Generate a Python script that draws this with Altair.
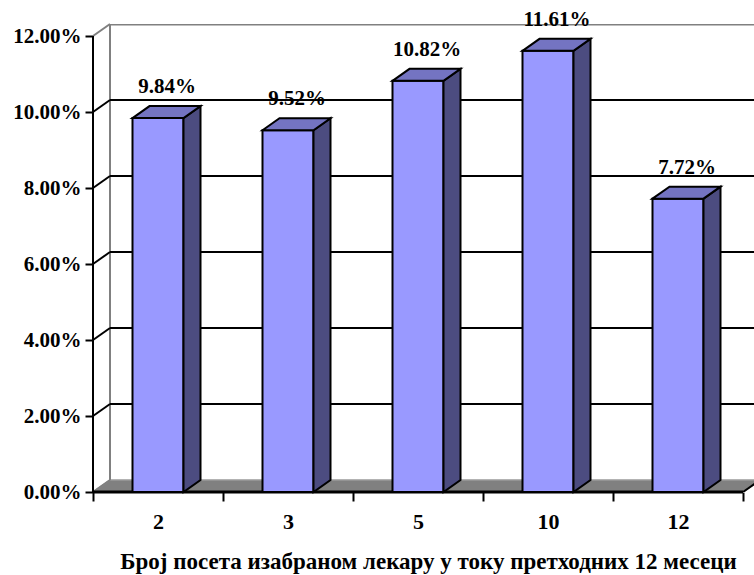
import altair as alt
import pandas as pd

# ---------------- data ----------------
categories = ["2", "3", "5", "10", "12"]
values = [9.84, 9.52, 10.82, 11.61, 7.72]
y_ticks = [0, 2, 4, 6, 8, 10, 12]
x_title = "Број посета изабраном лекару у току претходних 12 месеци"

# ---------------- style / geometry ----------------
PLOT_W, PLOT_H = 661, 468
PX_PER_CAT = 130.0
PX_PER_PCT = 38.0
DX = 17 / PX_PER_CAT          # depth offset, category units
DY = 12 / PX_PER_PCT          # depth offset, percent units
BAR_W = 51 / PX_PER_CAT
N = len(categories)
Y_MAX = max(y_ticks)
X_END = PLOT_W / PX_PER_CAT
Y_END = PLOT_H / PX_PER_PCT

FONT = "Liberation Serif"
FRONT = "#9999FF"
TOP = "#7474C2"
SIDE = "#4C4C80"
FLOOR = "#808080"
WALL_EDGE = "#808080"

xs = alt.Scale(domain=[0, X_END], nice=False, zero=False)
ys = alt.Scale(domain=[0, Y_END], nice=False, zero=False)

label_js = "[" + ",".join("'" + c + "'" for c in categories) + "]"
X_AX = alt.Axis(
    values=[i * 0.5 for i in range(2 * N + 1)],
    labelExpr="datum.value % 1 != 0 ? " + label_js + "[floor(datum.value)] : ''",
    tickOpacity={"condition": {"test": "datum.value % 1 != 0", "value": 0}, "value": 1},
    domain=False, grid=False, tickSize=9, tickWidth=2, tickColor="black",
    labelFont=FONT, labelFontSize=22, labelFontWeight="bold", labelColor="black",
    labelPadding=10, labelOverlap=False, labelFlush=False, labelAngle=0,
    title=x_title, titleFont=FONT, titleFontSize=23, titleFontWeight="bold",
    titleColor="black", titlePadding=18, titleX=335,
)
Y_AX = alt.Axis(
    values=y_ticks,
    labelExpr="format(datum.value, '.2f') + '%'",
    domain=False, grid=False, tickSize=8, tickWidth=2, tickColor="black",
    labelFont=FONT, labelFontSize=21, labelFontWeight="bold", labelColor="black",
    labelPadding=4, title=None,
)


def X(f="x"):
    return alt.X(f + ":Q", scale=xs, axis=X_AX)


def Y(f="y"):
    return alt.Y(f + ":Q", scale=ys, axis=Y_AX, stack=None)


# ---------------- tables ----------------
bars = pd.DataFrame({
    "bar": list(range(N)),
    "cat": categories,
    "value": values,
})
bars["xc"] = bars["bar"] + 0.5
bars["xl"] = bars["xc"] - BAR_W / 2
bars["xr"] = bars["xc"] + BAR_W / 2
bars["zero"] = 0.0
bars["label"] = [f"{v:.2f}%" for v in values]

side_rows, top_rows = [], []
for _, r in bars.iterrows():
    v, xl, xr, b = r["value"], r["xl"], r["xr"], int(r["bar"])
    side_rows += [
        {"bar": b, "x": xr, "y": v, "y2": 0.0},
        {"bar": b, "x": xr + DX, "y": v + DY, "y2": DY},
    ]
    top_rows += [
        {"bar": b, "x": xl, "y": v, "y2": v},
        {"bar": b, "x": xl + DX, "y": v + DY, "y2": v},
        {"bar": b, "x": xr, "y": v + DY, "y2": v},
        {"bar": b, "x": xr + DX, "y": v + DY, "y2": v + DY},
    ]
side = pd.DataFrame(side_rows)
top = pd.DataFrame(top_rows)

floor = pd.DataFrame({
    "x": [0, DX, N, N + DX],
    "y": [0, DY, DY, DY],
    "y2": [0, 0, 0, DY],
})

grid = pd.DataFrame({"y": [t + DY for t in y_ticks if 0 < t < Y_MAX]})
grid["x"] = DX
grid["x2"] = N + DX

conn = pd.DataFrame({"x": 0.0, "y": [float(t) for t in y_ticks]})
conn["x2"] = DX
conn["y2"] = conn["y"] + DY
conn["edge"] = [t in (0, Y_MAX) for t in y_ticks]

wall_left = pd.DataFrame({"x": [DX], "y": [DY], "y2": [Y_MAX + DY]})
wall_top = pd.DataFrame({"x": [DX], "x2": [N + DX], "y": [Y_MAX + DY]})
front_y = pd.DataFrame({"x": [0.0], "y": [0.0], "y2": [float(Y_MAX)]})
front_x = pd.DataFrame({"x": [0.0], "x2": [float(N)], "y": [0.0]})
floor_right = pd.DataFrame({"x": [float(N)], "x2": [N + DX], "y": [0.0], "y2": [DY]})

# ---------------- layers ----------------
floor_l = alt.Chart(floor).mark_area(
    fill=FLOOR, stroke="#9a9a9a", strokeWidth=1.5, opacity=1, clip=True,
    orient="vertical", interpolate="linear",
).encode(x=X(), y=Y(), y2="y2:Q")

wall_left_l = alt.Chart(wall_left).mark_rule(color=WALL_EDGE, strokeWidth=2).encode(
    x=X(), y=Y(), y2="y2:Q")
wall_top_l = alt.Chart(wall_top).mark_rule(color=WALL_EDGE, strokeWidth=3, clip=True).encode(
    x=X(), x2="x2:Q", y=Y())
grid_l = alt.Chart(grid).mark_rule(color="black", strokeWidth=2, clip=True).encode(
    x=X(), x2="x2:Q", y=Y())
conn_l = alt.Chart(conn).mark_rule(strokeWidth=2).encode(
    x=X(), x2="x2:Q", y=Y(), y2="y2:Q",
    color=alt.condition("datum.edge", alt.value(WALL_EDGE), alt.value("black")))

front_y_l = alt.Chart(front_y).mark_rule(color="black", strokeWidth=2).encode(
    x=X(), y=Y(), y2="y2:Q")
front_x_l = alt.Chart(front_x).mark_rule(color="black", strokeWidth=3).encode(
    x=X(), x2="x2:Q", y=Y())
floor_right_l = alt.Chart(floor_right).mark_rule(color="black", strokeWidth=2, clip=True).encode(
    x=X(), x2="x2:Q", y=Y(), y2="y2:Q")

front_l = alt.Chart(bars).mark_rect(fill=FRONT, stroke="black", strokeWidth=2).encode(
    x=X("xl"), x2="xr:Q", y=Y("zero"), y2="value:Q")
side_l = alt.Chart(side).mark_area(
    fill=SIDE, stroke="black", strokeWidth=2, opacity=1, strokeJoin="miter",
    orient="vertical", interpolate="linear",
).encode(x=X(), y=Y(), y2="y2:Q", detail="bar:N")
top_l = alt.Chart(top).mark_area(
    fill=TOP, stroke="black", strokeWidth=2, opacity=1, strokeJoin="miter",
    orient="vertical", interpolate="linear",
).encode(x=X(), y=Y(), y2="y2:Q", detail="bar:N")

text_l = alt.Chart(bars).mark_text(
    font=FONT, fontSize=21, fontWeight="bold", color="black",
    align="center", baseline="alphabetic", dx=9, dy=-25,
).encode(x=X("xc"), y=Y("value"), text="label:N")

chart = alt.layer(
    floor_l, wall_left_l, wall_top_l, grid_l, conn_l,
    front_x_l, floor_right_l,
    front_l, side_l, top_l, front_y_l, text_l,
).properties(
    width=PLOT_W, height=PLOT_H,
    padding={"left": 93, "top": 24, "right": 0, "bottom": 83},
    autosize=alt.AutoSizeParams(type="none"),
    background="white",
).configure_view(stroke=None)

chart.save("out.html", embed_options={"renderer": "svg", "actions": False})
